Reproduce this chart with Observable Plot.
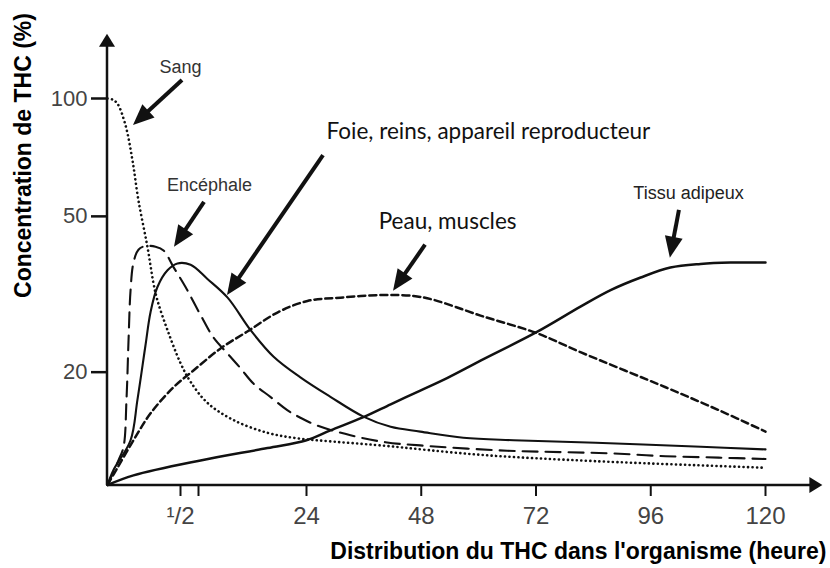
<!DOCTYPE html>
<html>
<head>
<meta charset="utf-8">
<script src="https://cdn.jsdelivr.net/npm/d3@7"></script>
<script src="https://cdn.jsdelivr.net/npm/@observablehq/plot@0.6"></script>
<style>
  html, body { margin: 0; padding: 0; background: #fff; }
</style>
</head>
<body>
<div id="chart"></div>
<script>
// ---------- data (hours, % concentration) ----------
const sangHours  = [0, 0.034, 0.068, 0.123, 0.171, 0.212, 0.274, 0.315, 0.342, 0.411, 0.5, 0.78, 2.9, 8.4, 15.7, 22.1, 29.4, 39.5, 60.4, 84.5, 120];
const sangValues = [100, 99.4, 97, 85.5, 69.5, 54.9, 41.7, 33.7, 30.5, 25.6, 21.1, 18.9, 16.7, 15.1, 14.0, 13.55, 13.3, 13.0, 12.3, 11.85, 11.4];

const encHours  = [0, 0.075, 0.11, 0.13, 0.144, 0.158, 0.178, 0.212, 0.26, 0.329, 0.384, 0.452, 0.64, 1.43, 4.2, 7.2, 9.9, 12.7, 16.3, 19.9, 22.7, 26.3, 33.2, 40.5, 47.8, 66, 77.1, 88, 99.1, 110.2, 120];
const encValues = [10.3, 11.9, 12.9, 17.0, 24.1, 32.4, 38.1, 41.1, 42.0, 41.8, 40.9, 37.1, 33.0, 28.0, 24.5, 22.3, 20.5, 18.7, 17.3, 16.0, 15.3, 14.6, 13.8, 13.25, 13.0, 12.6, 12.5, 12.4, 12.2, 12.1, 12.0];

const foieHours  = [0, 0.041, 0.158, 0.205, 0.26, 0.295, 0.342, 0.411, 0.479, 0.78, 2.9, 7.2, 12.1, 17, 22.7, 29, 35.9, 41.6, 47.8, 56.8, 67.3, 84.5, 106.5, 120];
const foieValues = [10.3, 11.25, 13.4, 17.0, 23.4, 28.5, 33, 36.4, 37.9, 37.6, 34.6, 31, 25.6, 21.9, 19.4, 17.3, 15.4, 14.5, 14.1, 13.6, 13.4, 13.2, 12.9, 12.7];

const peauHours  = [0, 0.068, 0.178, 0.295, 0.452, 0.86, 5.7, 11.4, 17.8, 24.2, 31.1, 40.1, 46.4, 50.6, 60.4, 72, 81.3, 99.1, 110.2, 120];
const peauValues = [10.3, 11.4, 13.4, 15.7, 18.3, 20.2, 23, 25.4, 28.4, 30.4, 31.0, 31.5, 31.3, 30.6, 27.9, 25.2, 22.5, 18.3, 16.0, 14.1];

const tissuHours  = [0, 0.178, 1.43, 15.7, 24, 29, 35.9, 41.6, 47.8, 53.5, 60.4, 72.1, 81.3, 87.6, 93.9, 100.1, 106.4, 112.7, 120];
const tissuValues = [10.3, 10.9, 11.9, 12.8, 13.4, 14.2, 15.35, 16.55, 17.95, 19.35, 21.4, 25.3, 29.4, 32.4, 34.9, 37.0, 37.8, 38.1, 38.1];

// ticks
const xTicks = [0.5, 1, 24, 48, 72, 96, 120];
const yTicks = [20, 50, 100];

// annotation labels (position in hours / %)
const labelTexts   = ["Sang", "Encéphale", "Foie, reins, appareil reproducteur", "Peau, muscles", "Tissu adipeux"];
const labelHours   = [0.5, 3.34, 28.2, 39.1, 103.9];
const labelValues  = [120, 60, 82.4, 48.5, 57.2];

// annotation arrows: tail -> tip
const arrowFromHours  = [0.556, 2.28, 27.56, 48.9, 102.0];
const arrowFromValues = [111.2, 54.3, 71.5, 42.2, 51.8];
const arrowToHours    = [0.178, 0.459, 7.18, 42.2, 100.1];
const arrowToValues   = [85.3, 41.7, 31.4, 32.2, 39.1];

// axis extents
const yAxisMin = 10.27, yAxisTop = 146, xAxisEnd = 132;

// ---------- build ----------
const series = [
  {name: "Sang", hours: sangHours, values: sangValues},
  {name: "Encéphale", hours: encHours, values: encValues},
  {name: "Foie", hours: foieHours, values: foieValues},
  {name: "Peau", hours: peauHours, values: peauValues},
  {name: "Tissu", hours: tissuHours, values: tissuValues}
];
const rows = series.flatMap(s => s.hours.map((h, i) => ({serie: s.name, h, v: s.values[i]})));
const styles = {
  "Sang":      {strokeWidth: 2.6, strokeDasharray: "0.1 4.4", strokeLinecap: "round"},
  "Encéphale": {strokeWidth: 2.1, strokeDasharray: "15 8"},
  "Foie":      {strokeWidth: 2.1},
  "Peau":      {strokeWidth: 2.5, strokeDasharray: "7 4"},
  "Tissu":     {strokeWidth: 2.5}
};
const labels = labelTexts.map((t, i) => ({t, h: labelHours[i], v: labelValues[i]}));
const arrows = arrowFromHours.map((h, i) => ({
  x1: h, y1: arrowFromValues[i], x2: arrowToHours[i], y2: arrowToValues[i], w: 4, head: 21, half: 9
}));
const axisArrows = [
  {x1: 0, y1: yAxisMin, x2: 0, y2: yAxisTop, w: 2.5, head: 13, half: 8},
  {x1: 0, y1: yAxisMin, x2: xAxisEnd, y2: yAxisMin, w: 2.5, head: 13, half: 8}
];

function arrowRender(list) {
  return (index, scales) => {
    const g = d3.create("svg:g");
    for (const a of list) {
      const x1 = scales.x(a.x1), y1 = scales.y(a.y1), x2 = scales.x(a.x2), y2 = scales.y(a.y2);
      const dx = x2 - x1, dy = y2 - y1, L = Math.hypot(dx, dy), ux = dx / L, uy = dy / L;
      const bx = x2 - ux * a.head, by = y2 - uy * a.head;
      g.append("line")
        .attr("x1", x1).attr("y1", y1).attr("x2", bx + ux * 2).attr("y2", by + uy * 2)
        .attr("stroke", "#111").attr("stroke-width", a.w);
      g.append("polygon")
        .attr("points", [[x2, y2], [bx - uy * a.half, by + ux * a.half], [bx + uy * a.half, by - ux * a.half]]
          .map(p => p.join(",")).join(" "))
        .attr("fill", "#111");
    }
    return g.node();
  };
}

const font = "Liberation Sans, Arial, Helvetica, sans-serif";

const chart = Plot.plot({
  width: 830,
  height: 568,
  marginLeft: 107,
  marginRight: 8,
  marginTop: 33,
  marginBottom: 83,
  style: {fontFamily: font, background: "#fff", overflow: "visible"},
  x: {type: "linear", domain: [0, 0.5, 1, 24, 120], range: [107, 180, 198, 306, 765]},
  y: {type: "log", domain: [yAxisMin, 100], range: [485, 98]},
  marks: [
    ...series.map(s => Plot.line(rows.filter(r => r.serie === s.name), {
      x: "h", y: "v", curve: "catmull-rom", stroke: "#111", ...styles[s.name]
    })),
    arrowRender(axisArrows),
    arrowRender(arrows),
    Plot.axisY({ticks: yTicks, tickSize: 16, tickPadding: 4, fontSize: 22, fill: "#444", stroke: "#111",
      strokeWidth: 2.5, tickFormat: d => String(d), label: null, fontFamily: font}),
    Plot.axisX({ticks: xTicks, tickSize: 11, tickPadding: 10, fontSize: 24, fill: "#444", stroke: "#111",
      strokeWidth: 2, label: null, fontFamily: font,
      tickFormat: d => d === 0.5 ? "¹/2" : d === 1 ? "" : String(d)}),
    Plot.text(labels.slice(0, 2), {x: "h", y: "v", text: "t", fontSize: 18, fill: "#333", textAnchor: "middle", lineAnchor: "middle", fontFamily: font}),
    Plot.text(labels.slice(4), {x: "h", y: "v", text: "t", fontSize: 18, fill: "#222", textAnchor: "middle", lineAnchor: "middle", fontFamily: font}),
    Plot.text(labels.slice(2, 4), {x: "h", y: "v", text: "t", fontSize: 22.5, fill: "#111", textAnchor: "start", lineAnchor: "middle", fontFamily: "Lato, 'Open Sans', sans-serif"}),
    Plot.text(["Concentration de THC (%)"], {text: d => d, frameAnchor: "top-left", dx: -84, dy: 122, rotate: -90,
      fontWeight: "bold", fontSize: 23, textAnchor: "middle", lineAnchor: "middle", fill: "#000", fontFamily: font}),
    Plot.text(["Distribution du THC dans l'organisme (heure)"], {text: d => d, frameAnchor: "bottom-right", dx: 4, dy: 66,
      fontWeight: "bold", fontSize: 23, textAnchor: "end", lineAnchor: "middle", fill: "#000", fontFamily: font})
  ]
});
document.getElementById("chart").appendChild(chart);
</script>
</body>
</html>
